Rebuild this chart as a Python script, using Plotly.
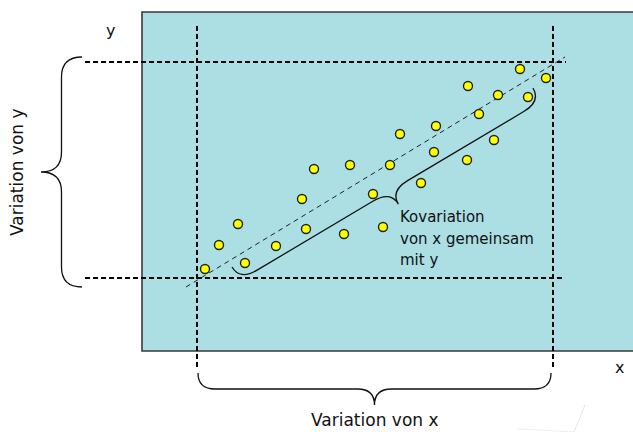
import math
import plotly.graph_objects as go

# ---- data (x / y in arbitrary units) ----
x_vals = [1.26, 1.54, 1.92, 2.06, 2.68, 3.20, 3.28, 3.44, 4.04, 4.16, 4.62, 4.82, 4.96,
          5.16, 5.58, 5.84, 5.88, 6.50, 6.52, 6.74, 7.04, 7.12, 7.56, 7.72, 8.08]
y_vals = [1.64, 2.12, 2.54, 1.76, 2.10, 3.04, 2.44, 3.64, 2.34, 3.72, 3.14, 2.48, 3.72,
          4.34, 3.36, 3.98, 4.50, 3.82, 5.30, 4.74, 4.22, 5.12, 5.64, 5.08, 5.46]

x_range_lines = [1.10, 8.22]     # left / right dashed verticals
y_range_lines = [1.46, 5.78]     # lower / upper dashed horizontals
trend_x = [0.88, 8.46]
trend_y = [1.28, 5.88]

label_y_axis = "y"
label_x_axis = "x"
label_var_y = "Variation von y"
label_var_x = "Variation von x"
label_cov = ["Kovariation", "von x gemeinsam", "mit y"]

# ---- styling ----
TEAL = "#ABDFE3"
FONT = "DejaVu Sans"
TXT = "#111111"

X_RANGE = [-2.84, 9.82]
Y_RANGE = [-1.62, 7.02]


def brace(p0, p1, n, h, r):
    ux, uy = p1[0] - p0[0], p1[1] - p0[1]
    L = math.hypot(ux, uy)
    ux, uy = ux / L, uy / L
    q = h / 2.0
    mx, my = (p0[0] + p1[0]) / 2.0, (p0[1] + p1[1]) / 2.0

    def P(bx, by, a, b):
        return "%.4f,%.4f" % (bx + a * ux + b * n[0], by + a * uy + b * n[1])

    return ("M" + P(p0[0], p0[1], 0, 0)
            + " Q" + P(p0[0], p0[1], 0, q) + " " + P(p0[0], p0[1], r, q)
            + " L" + P(mx, my, -r, q)
            + " Q" + P(mx, my, 0, q) + " " + P(mx, my, 0, 2 * q)
            + " Q" + P(mx, my, 0, q) + " " + P(mx, my, r, q)
            + " L" + P(p1[0], p1[1], -r, q)
            + " Q" + P(p1[0], p1[1], 0, q) + " " + P(p1[0], p1[1], 0, 0))


fig = go.Figure()

shapes = []
# plot area background with border
shapes.append(dict(type="rect", xref="x", yref="y", x0=0, x1=12, y0=0, y1=6.78,
                   fillcolor=TEAL, line=dict(color="#3a3a3a", width=1.6), layer="below"))

# dashed range lines
dash_style = dict(color="black", width=2, dash="5px,3px")
shapes.append(dict(type="line", xref="x", yref="y", x0=-1.14, x1=8.48,
                   y0=y_range_lines[1], y1=y_range_lines[1], line=dash_style))
shapes.append(dict(type="line", xref="x", yref="y", x0=-1.14, x1=8.40,
                   y0=y_range_lines[0], y1=y_range_lines[0], line=dash_style))
for xv in x_range_lines:
    shapes.append(dict(type="line", xref="x", yref="y", x0=xv, x1=xv,
                       y0=-0.32, y1=6.56, line=dash_style))

# braces
brace_line = dict(color="#111111", width=1.3)
shapes.append(dict(type="path", xref="x", yref="y",
                   path=brace((-1.2, 5.88), (-1.2, 1.28), (-1, 0), 0.82, 0.4),
                   line=brace_line))
shapes.append(dict(type="path", xref="x", yref="y",
                   path=brace((x_range_lines[0] + 0.02, -0.44), (x_range_lines[1] - 0.04, -0.44),
                              (0, -1), 0.64, 0.34),
                   line=brace_line))
shapes.append(dict(type="path", xref="x", yref="y",
                   path=brace((1.80, 1.68), (7.82, 5.26), (0.511, -0.86), 0.62, 0.4),
                   line=brace_line))

# faint watermark strokes
shapes.append(dict(type="line", xref="paper", yref="paper", x0=585 / 633, y0=1 - 405 / 432,
                   x1=574 / 633, y1=0, line=dict(color="#e4e4e4", width=1)))
shapes.append(dict(type="line", xref="paper", yref="paper", x0=518 / 633, y0=1 - 429 / 432,
                   x1=575 / 633, y1=0, line=dict(color="#eeeeee", width=1)))

# trend line
fig.add_trace(go.Scatter(x=trend_x, y=trend_y, mode="lines",
                         line=dict(color="#222222", width=1, dash="5px,4px"),
                         hoverinfo="skip"))
# points
fig.add_trace(go.Scatter(x=x_vals, y=y_vals, mode="markers",
                         marker=dict(size=9, color="#FFFF00",
                                     line=dict(color="#222222", width=1.4))))

ann = []
ann.append(dict(x=-0.64, y=6.42, text=label_y_axis, showarrow=False,
                font=dict(family=FONT, size=16, color=TXT)))
ann.append(dict(x=9.54, y=-0.32, text=label_x_axis, showarrow=False,
                font=dict(family=FONT, size=16, color=TXT)))
ann.append(dict(x=-2.50, y=3.58, text=label_var_y, showarrow=False, textangle=-90,
                font=dict(family=FONT, size=17, color=TXT)))
ann.append(dict(x=4.66, y=-1.38, text=label_var_x, showarrow=False,
                font=dict(family=FONT, size=17, color=TXT)))
for i, line in enumerate(label_cov):
    ann.append(dict(x=5.12, y=2.68 - i * 0.43, text=line, showarrow=False,
                    xanchor="left", yanchor="middle",
                    font=dict(family=FONT, size=15, color=TXT)))

fig.update_layout(
    width=633, height=432,
    margin=dict(l=0, r=0, t=0, b=0),
    paper_bgcolor="white", plot_bgcolor="white",
    showlegend=False,
    shapes=shapes, annotations=ann,
    xaxis=dict(range=X_RANGE, visible=False, fixedrange=True),
    yaxis=dict(range=Y_RANGE, visible=False, fixedrange=True),
)

fig.write_html("out.html", config={"displayModeBar": False},
               post_script="document.body.style.margin='0';")
